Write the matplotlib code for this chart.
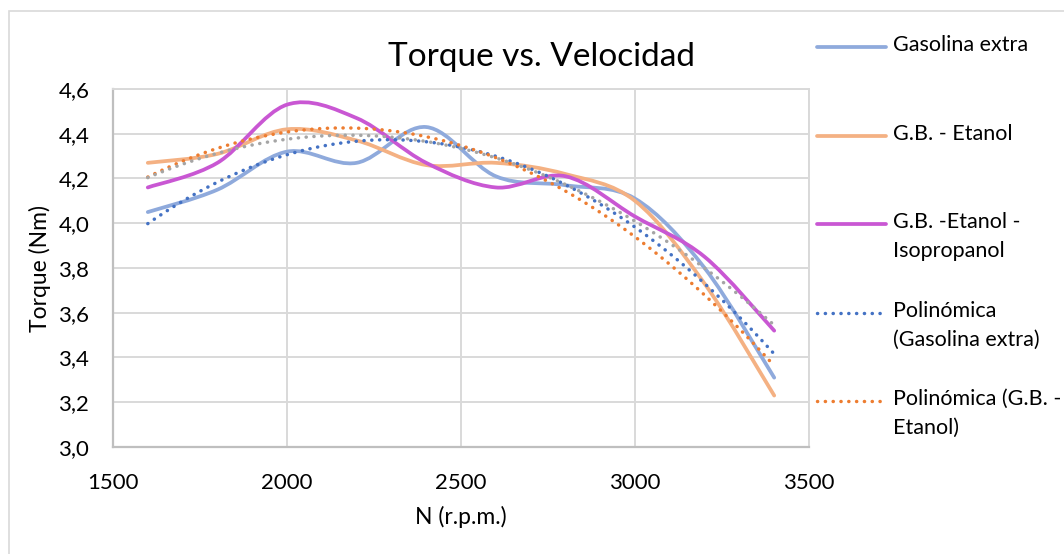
import numpy as np
import matplotlib
matplotlib.use('Agg')
import matplotlib.pyplot as plt
from matplotlib.path import Path
from matplotlib.patches import PathPatch, Rectangle
from matplotlib.lines import Line2D
from matplotlib.ticker import FuncFormatter

plt.rcParams['font.family'] = ['Lato', 'DejaVu Sans']

# engine speed (r.p.m.)
rpm = [1600, 1800, 2000, 2200, 2400, 2600, 2800, 3000, 3200, 3400]

# torque (Nm) for each fuel
gasolina = [4.05, 4.15, 4.32, 4.27, 4.43, 4.21, 4.17, 4.11, 3.80, 3.31]
etanol = [4.27, 4.31, 4.42, 4.37, 4.26, 4.27, 4.22, 4.10, 3.73, 3.23]
isopropanol = [4.16, 4.27, 4.53, 4.47, 4.27, 4.16, 4.21, 4.03, 3.85, 3.52]

labels = ['Gasolina extra', 'G.B. - Etanol', 'G.B. -Etanol -\nIsopropanol',
          'Polinómica\n(Gasolina extra)', 'Polinómica (G.B. -\nEtanol)']
solid_colors = ['#8FAADC', '#F4B183', '#C957D3']
trend_colors = ['#4472C4', '#ED7D31', '#A5A5A5']


def smooth_path(x, y):
    # bezier segments through every point, like a spreadsheet "smoothed line"
    pts = np.column_stack([x, y]).astype(float)
    n = len(pts)
    verts = [pts[0]]
    codes = [Path.MOVETO]
    for i in range(n - 1):
        p0 = pts[i - 1] if i > 0 else pts[i]
        p3 = pts[i + 2] if i + 2 < n else pts[i + 1]
        c1 = pts[i] + (pts[i + 1] - p0) / 6
        c2 = pts[i + 1] - (p3 - pts[i]) / 6
        verts += [c1, c2, pts[i + 1]]
        codes += [Path.CURVE4] * 3
    return Path(verts, codes)


fig = plt.figure(figsize=(10.64, 5.54), dpi=100)
ax = fig.add_axes([113 / 1064, 1 - 447 / 554, (809 - 113) / 1064, (447 - 89) / 554])

series = [gasolina, etanol, isopropanol]
for vals, c in zip(series, solid_colors):
    ax.add_patch(PathPatch(smooth_path(rpm, vals), fill=False, edgecolor=c,
                           lw=2.7, capstyle='round', joinstyle='round', zorder=3))

# polynomial (order 2) trendlines
xs = np.linspace(rpm[0], rpm[-1], 200)
dot = (0, (0.05, 2.2))
for vals, c in zip(series, trend_colors):
    coef = np.polyfit(rpm, vals, 2)
    ax.plot(xs, np.polyval(coef, xs), color=c, lw=2.5,
            linestyle=dot, dash_capstyle='round', zorder=4)

ax.set_xlim(1500, 3500)
ax.set_ylim(3.0, 4.6)
ax.set_xticks([1500, 2000, 2500, 3000, 3500])
ax.set_yticks(np.arange(3.0, 4.61, 0.2))
ax.yaxis.set_major_formatter(FuncFormatter(lambda v, p: f'{v:.1f}'.replace('.', ',')))
ax.grid(True, color='#D9D9D9', lw=1.4, zorder=0)
ax.set_axisbelow(True)
ax.tick_params(length=0, labelsize=16, colors='black')
ax.tick_params(axis='x', pad=19)
ax.tick_params(axis='y', pad=17)
for s in ['top', 'right']:
    ax.spines[s].set_color('#D9D9D9')
    ax.spines[s].set_linewidth(1.4)
for s in ['left', 'bottom']:
    ax.spines[s].set_color('#BFBFBF')
    ax.spines[s].set_linewidth(1.6)

fig.text(40 / 1064, 1 - 268 / 554, 'Torque (Nm)', rotation=90, ha='center', va='center', fontsize=16.5)
fig.text(461 / 1064, 1 - 517 / 554, 'N (r.p.m.)', ha='center', va='center', fontsize=16.5)
fig.text(541 / 1064, 1 - 57 / 554, 'Torque vs. Velocidad', ha='center', va='center', fontsize=24)

# legend on the right
rows = [47, 136, 224, 313, 401]
styles = [dict(color=solid_colors[0], lw=2.7, solid_capstyle='round'),
          dict(color=solid_colors[1], lw=2.7, solid_capstyle='round'),
          dict(color=solid_colors[2], lw=2.7, solid_capstyle='round'),
          dict(color=trend_colors[0], lw=2.5, linestyle=dot, dash_capstyle='round'),
          dict(color=trend_colors[1], lw=2.5, linestyle=dot, dash_capstyle='round')]
for y, lab, st in zip(rows, labels, styles):
    yf = 1 - y / 554
    fig.add_artist(Line2D([817 / 1064, 886 / 1064], [yf, yf], transform=fig.transFigure, **st))
    fig.text(893 / 1064, yf + 12 / 554, lab, ha='left', va='top', fontsize=15.5, linespacing=1.55)

# chart area border
fig.add_artist(Rectangle((9 / 1064, -0.05), 1.2, 1 - 11 / 554 + 0.05, transform=fig.transFigure,
                         fill=False, edgecolor='#D9D9D9', lw=1.2))

fig.savefig('out.png', dpi=100, facecolor='white')
